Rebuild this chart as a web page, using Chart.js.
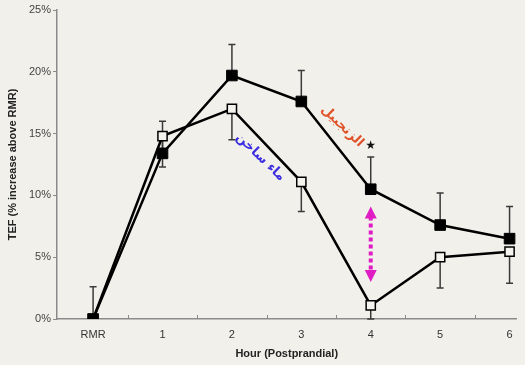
<!DOCTYPE html>
<html>
<head>
<meta charset="utf-8">
<script src="https://cdn.jsdelivr.net/npm/chart.js@4/dist/chart.umd.min.js"></script>
<style>
  html, body { margin: 0; padding: 0; background: #f1f0ea; overflow: hidden; }
  #wrap { width: 525px; height: 365px; position: relative; }
</style>
</head>
<body>
<div id="wrap"><canvas id="tefChart"></canvas></div>
<script>
// --- data ---
const hourLabels = ['RMR', '1', '2', '3', '4', '5', '6'];
const hours = [0, 1, 2, 3, 4, 5, 6];
const ginger = [0, 13.4, 19.7, 17.6, 10.5, 7.6, 6.5];        // filled squares
const hotWater = [0, 14.8, 17.0, 11.1, 1.1, 5.0, 5.45];     // open squares
// end of each error bar (ginger drawn up, water drawn down)
const gingerErrEnd = [2.6, 16.0, 22.2, 20.1, 13.1, 10.2, 9.1];
const waterErrEnd = [null, 12.3, 14.5, 8.7, 0, 2.5, 2.9];
const yTicks = [0, 5, 10, 15, 20, 25];

// annotations (in data units)
const gingerLabel = { text: 'الزنجبيل', x: 3.59, y: 15.6, color: '#e0522a' };
const waterLabel = { text: 'ماء ساخن', x: 2.41, y: 13.1, color: '#3b2de0' };
const starMark = { x: 4, y: 14.0 };
const diffArrow = { x: 4, from: 9.1, to: 3.0 };

const toPoints = (xs, ys) => xs.map((x, i) => ({ x: x, y: ys[i] }));

const errorBars = {
    id: 'errorBars',
    beforeDatasetsDraw(chart) {
        const { ctx, scales: { x, y } } = chart;
        ctx.save();
        ctx.strokeStyle = '#3a3a3a';
        ctx.lineWidth = 1.5;
        const draw = (vals, ends) => {
            vals.forEach((v, i) => {
                if (ends[i] === null) return;
                const px = x.getPixelForValue(hours[i]);
                const y0 = y.getPixelForValue(v);
                const y1 = y.getPixelForValue(ends[i]);
                ctx.beginPath();
                ctx.moveTo(px, y0); ctx.lineTo(px, y1);
                ctx.moveTo(px - 3.5, y1); ctx.lineTo(px + 3.5, y1);
                ctx.stroke();
            });
        };
        draw(ginger, gingerErrEnd);
        draw(hotWater, waterErrEnd);
        ctx.restore();
    }
};

const extras = {
    id: 'extras',
    afterDraw(chart) {
        const { ctx, scales: { x, y }, chartArea } = chart;
        ctx.save();

        // small inward tick marks between categories
        ctx.strokeStyle = '#8a8a8a';
        ctx.lineWidth = 1;
        for (let h = 0.5; h < 6; h += 1) {
            const px = Math.round(x.getPixelForValue(h)) + 0.5;
            ctx.beginPath();
            ctx.moveTo(px, chartArea.bottom);
            ctx.lineTo(px, chartArea.bottom - 4);
            ctx.stroke();
        }

        // rotated arabic labels
        [gingerLabel, waterLabel].forEach(l => {
            ctx.save();
            ctx.translate(x.getPixelForValue(l.x), y.getPixelForValue(l.y));
            ctx.rotate(44 * Math.PI / 180);
            ctx.fillStyle = l.color;
            ctx.font = 'bold 13px "DejaVu Sans"';
            ctx.textAlign = 'center';
            ctx.textBaseline = 'middle';
            ctx.fillText(l.text, 0, 0);
            ctx.restore();
        });

        // significance star
        ctx.fillStyle = '#111';
        ctx.font = 'bold 12px "DejaVu Sans"';
        ctx.textAlign = 'center';
        ctx.textBaseline = 'middle';
        ctx.fillText('★', x.getPixelForValue(starMark.x), y.getPixelForValue(starMark.y));

        // magenta dotted double arrow
        const ax = x.getPixelForValue(diffArrow.x);
        const yt = y.getPixelForValue(diffArrow.from);
        const yb = y.getPixelForValue(diffArrow.to);
        ctx.strokeStyle = '#e01cc4';
        ctx.fillStyle = '#e01cc4';
        ctx.lineWidth = 4;
        ctx.setLineDash([4, 3]);
        ctx.beginPath();
        ctx.moveTo(ax, yt + 10);
        ctx.lineTo(ax, yb - 10);
        ctx.stroke();
        ctx.setLineDash([]);
        ctx.beginPath();
        ctx.moveTo(ax, yt); ctx.lineTo(ax - 6, yt + 12); ctx.lineTo(ax + 6, yt + 12); ctx.closePath();
        ctx.fill();
        ctx.beginPath();
        ctx.moveTo(ax, yb); ctx.lineTo(ax - 6, yb - 12); ctx.lineTo(ax + 6, yb - 12); ctx.closePath();
        ctx.fill();

        ctx.restore();
    }
};

new Chart(document.getElementById('tefChart'), {
    type: 'line',
    data: {
        datasets: [
            {
                label: 'Ginger',
                data: toPoints(hours, ginger),
                borderColor: '#000',
                borderWidth: 2.5,
                pointStyle: 'rect',
                pointRadius: 7.5,
                pointBackgroundColor: '#000',
                pointBorderColor: '#000',
                pointBorderWidth: 1,
                tension: 0
            },
            {
                label: 'Hot water',
                data: toPoints(hours, hotWater),
                borderColor: '#000',
                borderWidth: 2.5,
                pointStyle: 'rect',
                pointRadius: 6.5,
                pointBackgroundColor: '#f4f3ee',
                pointBorderColor: '#000',
                pointBorderWidth: 1.5,
                tension: 0
            }
        ]
    },
    options: {
        responsive: true,
        maintainAspectRatio: false,
        animation: false,
        layout: { padding: { top: 10, right: 0, bottom: 0, left: 0 } },
        plugins: { legend: { display: false }, tooltip: { enabled: false } },
        scales: {
            x: {
                type: 'linear',
                min: -0.52,
                max: 6.1,
                afterBuildTicks: s => { s.ticks = hours.map(h => ({ value: h })); },
                afterFit: s => { s.height = 46; },
                grid: { display: false, drawTicks: false },
                border: { display: true, color: '#8a8a8a', width: 1.5 },
                ticks: {
                    padding: 9,
                    color: '#333',
                    font: { family: 'Liberation Sans', size: 11 },
                    callback: v => hourLabels[hours.indexOf(v)]
                },
                title: {
                    display: true,
                    text: 'Hour (Postprandial)',
                    color: '#222',
                    font: { family: 'Liberation Sans', size: 11, weight: 'bold' },
                    padding: { top: 0, bottom: 4 }
                }
            },
            y: {
                min: 0,
                max: 25,
                afterBuildTicks: s => { s.ticks = yTicks.map(v => ({ value: v })); },
                afterFit: s => { s.width = 57; },
                grid: { drawOnChartArea: false, drawTicks: true, tickLength: 4, color: '#8a8a8a' },
                border: { display: true, color: '#8a8a8a', width: 1.5 },
                ticks: {
                    padding: 2,
                    color: '#444',
                    font: { family: 'Liberation Sans', size: 11 },
                    callback: v => v + '%'
                },
                title: {
                    display: true,
                    text: 'TEF (% increase above RMR)',
                    color: '#222',
                    font: { family: 'Liberation Sans', size: 11, weight: 'bold' },
                    padding: { top: 6, bottom: 2 }
                }
            }
        }
    },
    plugins: [errorBars, extras]
});
</script>
</body>
</html>
